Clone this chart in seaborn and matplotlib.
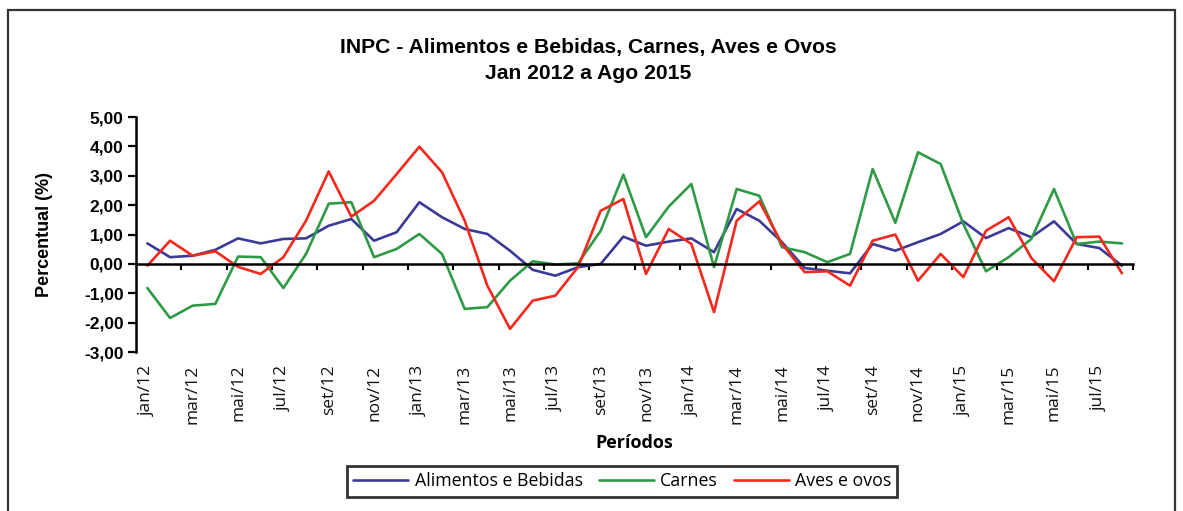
import pandas as pd
import numpy as np
import matplotlib
matplotlib.use("Agg")
import matplotlib.pyplot as plt
import seaborn as sns
from matplotlib.patches import Rectangle
from matplotlib.ticker import FuncFormatter

# ---- Data ----
meses = ['jan', 'fev', 'mar', 'abr', 'mai', 'jun', 'jul', 'ago', 'set', 'out', 'nov', 'dez']
anos = ['12', '13', '14', '15']
n_meses = 44  # jan/12 .. ago/15

alimentos = [0.70, 0.23, 0.28, 0.48, 0.87, 0.70, 0.85, 0.87, 1.30, 1.53, 0.79,
             1.08, 2.10, 1.59, 1.19, 1.02, 0.45, -0.20, -0.40, -0.11, 0.00, 0.93,
             0.62, 0.76, 0.87, 0.40, 1.87, 1.47, 0.74, -0.14, -0.23, -0.32, 0.68,
             0.45, 0.74, 1.02, 1.45, 0.88, 1.22, 0.91, 1.45, 0.68, 0.54, -0.06]
carnes = [-0.82, -1.84, -1.42, -1.36, 0.25, 0.23, -0.82, 0.34, 2.05, 2.10, 0.23,
          0.51, 1.02, 0.34, -1.53, -1.47, -0.57, 0.09, -0.02, 0.02, 1.13, 3.04,
          0.91, 1.95, 2.72, -0.11, 2.55, 2.32, 0.57, 0.40, 0.06, 0.34, 3.23,
          1.40, 3.80, 3.40, 1.36, -0.25, 0.23, 0.85, 2.55, 0.68, 0.76, 0.70]
aves = [-0.06, 0.79, 0.28, 0.43, -0.10, -0.34, 0.23, 1.47, 3.15, 1.61, 2.15,
        3.06, 3.99, 3.12, 1.47, -0.74, -2.21, -1.25, -1.08, -0.11, 1.81, 2.21,
        -0.34, 1.19, 0.68, -1.64, 1.47, 2.13, 0.68, -0.28, -0.25, -0.74, 0.79,
        1.00, -0.57, 0.34, -0.45, 1.13, 1.59, 0.20, -0.59, 0.91, 0.93, -0.32]

series = ['Alimentos e Bebidas', 'Carnes', 'Aves e ovos']
cores = ['#3b3b96', '#2f9a45', '#f5281e']
y_ticks = [-3, -2, -1, 0, 1, 2, 3, 4, 5]

periodos = [f"{m}/{a}" for a in anos for m in meses][:n_meses]

df = pd.DataFrame({
    'idx': list(range(n_meses)) * 3,
    'valor': alimentos + carnes + aves,
    'serie': [s for s in series for _ in range(n_meses)],
})

# ---- Style ----
sns.set_style('white')
plt.rcParams['font.family'] = ['Liberation Sans', 'DejaVu Sans']
plt.rcParams['text.color'] = 'black'
plt.rcParams['axes.labelcolor'] = 'black'
plt.rcParams['xtick.color'] = 'black'
plt.rcParams['ytick.color'] = 'black'
body_font = ['Open Sans', 'DejaVu Sans']

fig = plt.figure(figsize=(11.83, 5.11), dpi=100)
ax = fig.add_axes([0.115, 0.311, 0.843, 0.46])

sns.lineplot(data=df, x='idx', y='valor', hue='serie', hue_order=series,
             palette=cores, linewidth=1.9, ax=ax, legend=True,
             solid_joinstyle='round', solid_capstyle='round')

ax.set_xlim(-0.5, n_meses - 0.5)
ax.set_ylim(-3, 5)

# y axis
ax.set_yticks(y_ticks)
ax.yaxis.set_major_formatter(FuncFormatter(lambda v, p: f"{v:.2f}".replace('.', ',')))
for lbl in ax.get_yticklabels():
    lbl.set_fontweight('bold')
    lbl.set_fontsize(12.5)
ax.tick_params(axis='y', direction='out', length=6, width=1.6, left=True, pad=3)
ax.set_ylabel('Percentual (%)', fontsize=13, fontweight='bold', labelpad=22)

# spines: left axis + horizontal line at zero
for s in ['top', 'right']:
    ax.spines[s].set_visible(False)
ax.spines['left'].set_linewidth(1.8)
ax.spines['left'].set_color('black')
ax.spines['bottom'].set_position(('data', 0))
ax.spines['bottom'].set_linewidth(1.8)
ax.spines['bottom'].set_color('black')

# boundary ticks on the zero line, every two months
ax.set_xticks(np.arange(1.5, n_meses, 2))
ax.set_xticklabels([])
ax.tick_params(axis='x', direction='out', length=4, width=1.5, bottom=True)

# category labels at the bottom of the plot area
sec = ax.secondary_xaxis('bottom')
sec.set_xticks(range(0, n_meses, 2))
sec.set_xticklabels(periodos[::2], rotation=90, fontsize=12.5,
                    family=body_font, color='#111111')
sec.tick_params(length=0, pad=9)
sec.spines['bottom'].set_visible(False)
sec.set_xlabel('Períodos', fontsize=13, fontweight='bold', labelpad=7,
               family=body_font)
ax.set_xlabel('')

# title
fig.text(0.497, 0.907, 'INPC - Alimentos e Bebidas, Carnes, Aves e Ovos',
         ha='center', va='center', fontsize=15.2, fontweight='bold')
fig.text(0.497, 0.857, 'Jan 2012 a Ago 2015',
         ha='center', va='center', fontsize=15.2, fontweight='bold')

# legend
handles, labels = ax.get_legend_handles_labels()
ax.get_legend().remove()
leg = fig.legend(handles, labels, loc='center', bbox_to_anchor=(0.526, 0.058),
                 ncol=3, frameon=True, fancybox=False, handlelength=3.1,
                 columnspacing=0.9, handletextpad=0.35, borderpad=0.35,
                 prop={'family': body_font, 'size': 12.8})
leg.get_frame().set_edgecolor('black')
leg.get_frame().set_linewidth(2.0)

# outer chart border
fig.patches.append(Rectangle((8 / 1183, -0.05), 1167 / 1183, 1.05 - 10 / 511,
                             transform=fig.transFigure, fill=False,
                             edgecolor='#333333', linewidth=1.6))

fig.savefig('out.png', dpi=100)
